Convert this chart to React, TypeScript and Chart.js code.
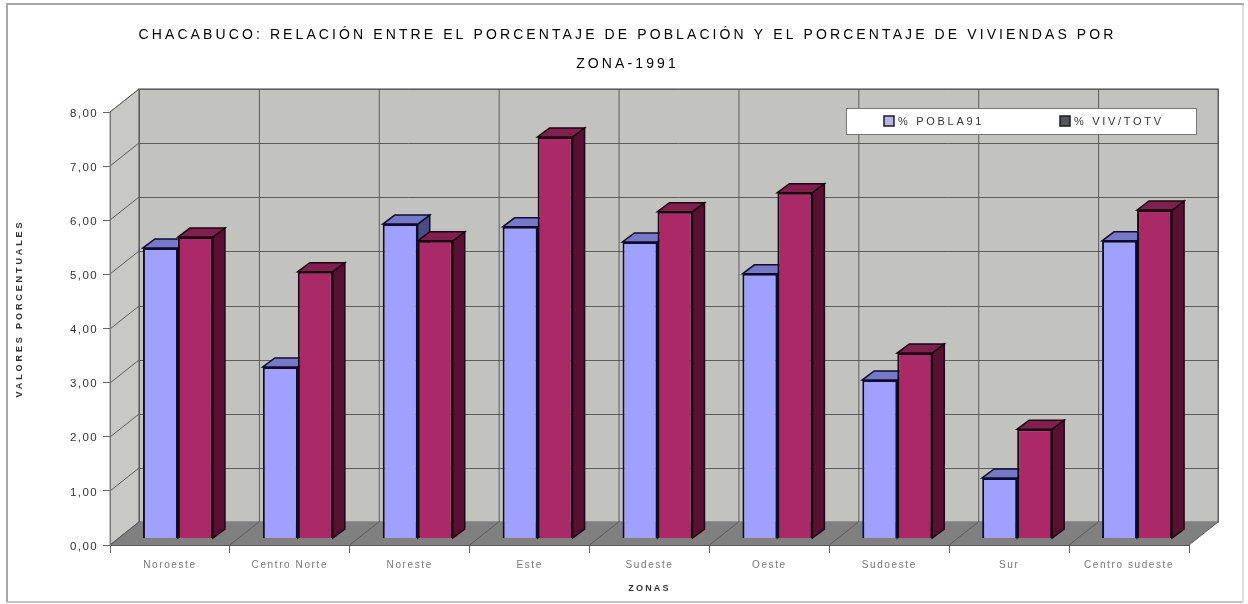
import React, { useEffect, useRef } from "react";
import { Chart, registerables } from "chart.js";

Chart.register(...registerables);

const zonas = ["Noroeste", "Centro Norte", "Noreste", "Este", "Sudeste", "Oeste", "Sudoeste", "Sur", "Centro sudeste"];
const pobla91 = [5.36, 3.16, 5.8, 5.75, 5.47, 4.88, 2.92, 1.11, 5.49];
const vivTotv = [5.56, 4.92, 5.49, 7.41, 6.03, 6.38, 3.42, 2.01, 6.06];
const tituloLineas = [
  "CHACABUCO: RELACIÓN ENTRE EL PORCENTAJE DE POBLACIÓN Y EL PORCENTAJE DE VIVIENDAS POR",
  "ZONA-1991",
];

// Oblique offset of the back wall, of the bars inside the box and of each bar's own depth.
const WALL_DX = 29;
const WALL_DY = -23;
const BAR_DX = 8;
const BAR_DY = 7;
const BAR_DEPTH_X = 12;
const BAR_DEPTH_Y = -9;
const UNIT_PX = 433 / 8;

const polygon = (ctx: CanvasRenderingContext2D, pts: number[][], fill: string, stroke?: string, lw = 1) => {
  ctx.beginPath();
  pts.forEach(([x, y], i) => (i ? ctx.lineTo(x, y) : ctx.moveTo(x, y)));
  ctx.closePath();
  ctx.fillStyle = fill;
  ctx.fill();
  if (stroke) {
    ctx.strokeStyle = stroke;
    ctx.lineWidth = lw;
    ctx.stroke();
  }
};

const line = (ctx: CanvasRenderingContext2D, x1: number, y1: number, x2: number, y2: number) => {
  ctx.beginPath();
  ctx.moveTo(x1, y1);
  ctx.lineTo(x2, y2);
  ctx.stroke();
};

// Per-element text spacing and nudging: Chart.js has no option for these, so the draw calls are wrapped.
const withSpacing = (owner: any, method: string, spacing: string, dx = 0, dy = 0) => {
  const original = owner[method];
  owner[method] = function (...args: any[]) {
    const ctx = owner.ctx as any;
    ctx.save();
    ctx.letterSpacing = spacing;
    ctx.translate(dx, dy);
    original.apply(owner, args);
    ctx.restore();
  };
};

const box3d = {
  id: "box3d",
  beforeDraw(chart: any) {
    const { ctx, width, height, chartArea: a, scales } = chart;
    ctx.save();
    ctx.fillStyle = "#ffffff";
    ctx.fillRect(0, 0, width, height);
    ctx.lineWidth = 2;
    ctx.strokeStyle = "#c4c4c4";
    line(ctx, 7, 602, 1243, 602);
    ctx.strokeStyle = "#dcdcdc";
    line(ctx, 1243, 3, 1243, 602);
    ctx.strokeStyle = "#a8a8a8";
    line(ctx, 6, 4, 1244, 4);
    line(ctx, 7, 3, 7, 602);

    const { left, right, top, bottom } = a;
    polygon(ctx, [[left, top], [left + WALL_DX, top + WALL_DY], [left + WALL_DX, bottom + WALL_DY], [left, bottom]], "#c8c8c6", "#8a8a8a");
    polygon(ctx, [[left + WALL_DX, top + WALL_DY], [right + WALL_DX, top + WALL_DY], [right + WALL_DX, bottom + WALL_DY], [left + WALL_DX, bottom + WALL_DY]], "#c2c2c0", "#808080", 1.5);
    polygon(ctx, [[left, bottom], [right, bottom], [right + WALL_DX, bottom + WALL_DY], [left + WALL_DX, bottom + WALL_DY]], "#808080");

    ctx.strokeStyle = "#5c5c5c";
    ctx.lineWidth = 1;
    scales.y.ticks.forEach((t: any) => {
      const y = Math.round(scales.y.getPixelForValue(t.value));
      if (t.value > 0) line(ctx, left + WALL_DX, y + WALL_DY + 0.5, right + WALL_DX, y + WALL_DY + 0.5);
      line(ctx, left, y, left + WALL_DX, y + WALL_DY);
    });
    const step = (right - left) / zonas.length;
    for (let i = 0; i <= zonas.length; i++) {
      const x = left + i * step;
      line(ctx, x + WALL_DX + 0.5, top + WALL_DY, x + WALL_DX + 0.5, bottom + WALL_DY);
      line(ctx, x, bottom, x + WALL_DX, bottom + WALL_DY);
    }
    ctx.restore();

    if (!chart.$spaced) {
      chart.$spaced = true;
      withSpacing(chart.titleBlock, "draw", "3.1px", 33, 0);
      withSpacing(scales.y, "drawLabels", "1.4px", 0, 1.5);
      withSpacing(scales.x, "drawLabels", "1.6px");
      withSpacing(scales.x, "drawTitle", "2.2px", 0, -10);
      withSpacing(scales.y, "drawTitle", "2.9px", 14, -20);
    }
  },
  beforeDatasetsDraw(chart: any) {
    const { ctx } = chart;
    ctx.save();
    ctx.translate(BAR_DX, 0);
    // Top and side faces go first so that the front rectangles cover them.
    chart.data.datasets.forEach((ds: any, d: number) => {
      chart.getDatasetMeta(d).data.forEach((bar: any) => {
        const { x, y, base, width } = bar.getProps(["x", "y", "base", "width"], true);
        const l = x - width / 2;
        const r = x + width / 2;
        polygon(ctx, [[r, y], [r + BAR_DEPTH_X, y + BAR_DEPTH_Y], [r + BAR_DEPTH_X, base + BAR_DEPTH_Y], [r, base]], ds.sideColor, ds.borderColor, 1.5);
        polygon(ctx, [[l, y], [l + BAR_DEPTH_X, y + BAR_DEPTH_Y], [r + BAR_DEPTH_X, y + BAR_DEPTH_Y], [r, y]], ds.topColor, ds.borderColor, 1.5);
      });
    });
  },
  afterDatasetsDraw(chart: any) {
    const { ctx } = chart;
    ctx.restore();

    // Legend box sitting over the back wall.
    ctx.save();
    ctx.fillStyle = "#ffffff";
    ctx.strokeStyle = "#777777";
    ctx.lineWidth = 1;
    ctx.fillRect(846, 108, 351, 27);
    ctx.strokeRect(846.5, 108.5, 350, 26);
    ctx.font = "11px 'Liberation Sans'";
    ctx.letterSpacing = "2.7px";
    ctx.textBaseline = "middle";
    const swatchX = [884, 1060];
    chart.data.datasets.forEach((ds: any, i: number) => {
      ctx.fillStyle = ds.legendColor;
      ctx.fillRect(swatchX[i], 116, 10, 10);
      ctx.strokeStyle = "#1a1a2a";
      ctx.lineWidth = 1.5;
      ctx.strokeRect(swatchX[i], 116, 10, 10);
      ctx.fillStyle = "#333333";
      ctx.fillText(ds.label, swatchX[i] + 14, 122);
    });
    ctx.restore();
  },
};

export default function App() {
  const canvasRef = useRef<HTMLCanvasElement | null>(null);

  useEffect(() => {
    const chart = new Chart(canvasRef.current as HTMLCanvasElement, {
      type: "bar",
      plugins: [box3d],
      data: {
        labels: zonas,
        datasets: [
          {
            label: "% POBLA91",
            data: pobla91,
            yAxisID: "yBars",
            backgroundColor: "#a0a0ff",
            borderColor: "#0c0c30",
            borderWidth: 2,
            topColor: "#7878c8",
            sideColor: "#4c4c84",
            legendColor: "#b4b4e0",
          },
          {
            label: "% VIV/TOTV",
            data: vivTotv,
            yAxisID: "yBars",
            backgroundColor: "#aa2a68",
            borderColor: "#1c0410",
            borderWidth: 2,
            topColor: "#80204e",
            sideColor: "#5a1033",
            legendColor: "#565656",
          },
        ] as any,
      },
      options: {
        animation: false,
        responsive: false,
        layout: { padding: { left: 0, right: 59, top: 0, bottom: 0 } },
        datasets: { bar: { categoryPercentage: 70 / 119.9, barPercentage: 1, clip: false } } as any,
        plugins: {
          legend: { display: false },
          tooltip: { enabled: false },
          title: {
            display: true,
            text: tituloLineas,
            color: "#000000",
            font: { family: "'Liberation Sans'", size: 14, weight: "normal", lineHeight: 29 / 14 },
            padding: { top: 21, bottom: 33 },
          },
        },
        scales: {
          x: {
            offset: true,
            afterFit: (s: any) => { s.height = 59; },
            grid: { drawOnChartArea: false, tickLength: 8, color: "#666666", tickColor: "#666666", offset: true },
            border: { color: "#555555" },
            ticks: { color: "#777777", padding: 6, maxRotation: 0, font: { family: "'Liberation Sans'", size: 10 } },
            title: {
              display: true,
              text: "ZONAS",
              color: "#333333",
              padding: { top: 6, bottom: 0 },
              font: { family: "'Liberation Sans'", size: 9, weight: "bold" },
            },
          },
          y: {
            min: 0,
            max: 8,
            afterFit: (s: any) => { s.width = 110; },
            grid: { drawOnChartArea: false, tickLength: 7, color: "#666666", tickColor: "#666666" },
            border: { color: "#777777" },
            ticks: {
              stepSize: 1,
              color: "#333333",
              padding: 5,
              font: { family: "'Liberation Sans'", size: 11.5 },
              callback: (v: any) => Number(v).toFixed(2).replace(".", ","),
            },
            title: {
              display: true,
              text: "VALORES PORCENTUALES",
              color: "#333333",
              padding: { top: 0, bottom: 0 },
              font: { family: "'Liberation Sans'", size: 9, weight: "bold" },
            },
          },
          // Bars stand a few pixels behind the front edge of the floor.
          yBars: {
            display: false,
            min: -BAR_DY / UNIT_PX,
            max: 8 - BAR_DY / UNIT_PX,
          },
        },
      } as any,
    });
    return () => chart.destroy();
  }, []);

  return (
    <div style={{ position: "fixed", left: 0, top: 0, width: 1248, height: 604 }}>
      <canvas ref={canvasRef} width={1248} height={604} style={{ display: "block" }} />
    </div>
  );
}
